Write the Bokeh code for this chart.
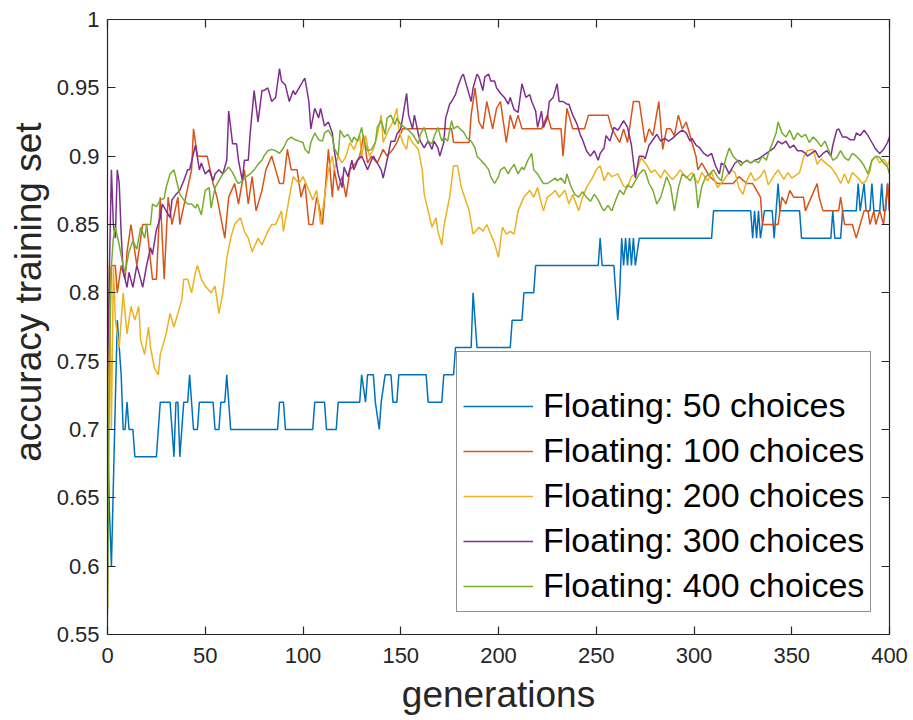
from bokeh.plotting import figure
from bokeh.models import LinearAxis, FixedTicker, Range1d, CustomJSTickFormatter, CustomLabelingPolicy, Title
from bokeh.embed import file_html
from bokeh.resources import INLINE

FONT = "Liberation Sans"
AXC = "#262626"

series_labels = ["Floating: 50 choices", "Floating: 100 choices", "Floating: 200 choices",
                 "Floating: 300 choices", "Floating: 400 choices"]
series_colors = ["#0072BD", "#D95319", "#EDB120", "#7E2F8E", "#77AC30"]

x_ticks = [0, 50, 100, 150, 200, 250, 300, 350, 400]
y_ticks = [0.55, 0.6, 0.65, 0.7, 0.75, 0.8, 0.85, 0.9, 0.95, 1.0]
x_title = "generations"
y_title = "accuracy training set"

# (generation, accuracy)
pts_50 = [(0,.70),(1,.64),(2,.60),(3,.66),(4,.72),(5,.78),(6,.76),(7,.74),(8,.70),(9,.70),(10,.72),(11,.70),
          (13,.70),(14,.68),(25,.68),(26,.70),(27,.72),(32,.72),(33,.70),(34,.68),(35,.72),(36,.72),(37,.68),
          (38,.70),(39,.72),(41,.72),(42,.74),(43,.72),(44,.70),(46,.70),(47,.72),(54,.72),(55,.70),(57,.70),
          (58,.72),(60,.72),(61,.74),(62,.72),(63,.70),(87,.70),(88,.72),(90,.72),(91,.70),(105,.70),(106,.72),
          (111,.72),(112,.70),(117,.70),(118,.72),(129,.72),(130,.74),(132,.72),(133,.74),(136,.74),(137,.72),
          (139,.70),(140,.72),(142,.74),(145,.74),(146,.72),(148,.72),(149,.74),(163,.74),(164,.72),(171,.72),
          (172,.74),(177,.74),(178,.76),(186,.76),(187,.80),(188,.78),(189,.76),(206,.76),(207,.78),(212,.78),
          (213,.80),(218,.80),(219,.82),(251,.82),(252,.84),(253,.82),(259,.82),(260,.80),(261,.78),(262,.80),
          (263,.84),(264,.82),(265,.84),(266,.82),(267,.84),(268,.82),(269,.84),(270,.82),(272,.84),(309,.84),
          (310,.86),(329,.86),(330,.84),(331,.86),(332,.84),(333,.86),(334,.84),(336,.86),(340,.86),(341,.84),
          (342,.86),(343,.88),(344,.86),(354,.86),(355,.84),(370,.84),(371,.86),(372,.84),(375,.84),(376,.86),
          (383,.86),(384,.88),(385,.86),(387,.88),(388,.86),(390,.86),(391,.88),(392,.86),(395,.86),(396,.88),
          (397,.86),(398,.86),(399,.88),(400,.86)]

pts_100 = [(0,.75),(1,.80),(2,.82),(4,.82),(5,.80),(7,.82),(9,.81),(10,.83),(12,.85),(15,.82),(18,.85),(20,.85),
           (23,.81),(25,.81),(27,.87),(29,.81),(31,.87),(33,.85),(36,.87),(37,.85),(40,.87),(43,.89),(44,.92),
           (46,.90),(48,.90),(51,.90),(54,.88),(56,.87),(60,.84),(62,.87),(65,.88),(67,.865),(70,.89),(72,.865),
           (74,.885),(76,.86),(79,.875),(81,.89),(84,.90),(86,.89),(88,.88),(90,.88),(92,.905),(94,.89),(97,.89),
           (99,.87),(101,.88),(103,.85),(105,.85),(107,.87),(108,.865),(110,.85),(113,.905),(115,.87),(116,.89),
           (118,.875),(120,.885),(122,.87),(124,.89),(127,.895),(129,.90),(131,.915),(133,.895),(135,.90),
           (138,.895),(141,.905),(143,.90),(146,.905),(148,.91),(151,.92),(176,.92),(177,.91),(185,.91),
           (186,.93),(188,.95),(190,.925),(192,.92),(194,.94),(197,.92),(199,.935),(201,.94),(204,.91),(206,.93),
           (208,.92),(210,.93),(212,.92),(222,.92),(225,.93),(227,.92),(232,.92),(233,.90),(235,.935),(238,.92),
           (244,.92),(246,.93),(256,.93),(258,.92),(262,.91),(264,.92),(266,.91),(269,.94),(272,.94),(275,.91),
           (277,.92),(279,.915),(282,.94),(284,.905),(286,.92),(288,.92),(290,.915),(292,.93),(294,.92),
           (296,.925),(299,.91),(301,.90),(302,.89),(304,.895),(306,.89),(308,.885),(312,.88),(316,.88),
           (320,.88),(323,.885),(327,.88),(330,.88),(332,.875),(334,.87),(335,.85),(343,.85),(345,.87),
           (347,.865),(349,.875),(351,.87),(356,.87),(357,.86),(360,.87),(363,.88),(364,.87),(366,.86),
           (374,.86),(375,.87),(377,.85),(381,.85),(383,.84),(385,.85),(387,.86),(389,.86),(390,.85),(392,.86),
           (393,.85),(395,.86),(397,.85),(399,.88),(400,.86)]

pts_200 = [(0,.57),(1,.82),(2,.70),(3,.82),(4,.78),(6,.76),(8,.80),(10,.77),(12,.79),(14,.78),(16,.79),(17,.765),
           (19,.755),(21,.775),(22,.76),(24,.745),(26,.74),(27,.755),(30,.77),(32,.785),(34,.775),(36,.785),
           (38,.795),(39,.81),(41,.81),(43,.80),(45,.815),(46,.82),(48,.81),(50,.805),(53,.80),(55,.805),
           (57,.785),(59,.80),(61,.825),(63,.84),(65,.85),(68,.855),(70,.845),(72,.84),(74,.83),(77,.84),
           (79,.835),(82,.845),(84,.85),(86,.85),(89,.86),(90,.845),(93,.87),(95,.885),(98,.88),(100,.885),
           (103,.875),(105,.868),(107,.875),(109,.85),(111,.87),(113,.89),(115,.90),(116,.89),(118,.90),
           (120,.895),(122,.90),(124,.91),(126,.905),(129,.915),(130,.90),(132,.915),(134,.90),(136,.905),
           (138,.915),(140,.93),(141,.91),(144,.92),(146,.925),(148,.935),(149,.92),(151,.91),(153,.905),
           (154,.915),(156,.91),(159,.905),(161,.89),(162,.872),(164,.86),(166,.848),(168,.855),(169,.845),
           (171,.835),(172,.848),(175,.87),(177,.893),(179,.893),(181,.877),(185,.86),(187,.843),(190,.848),
           (192,.845),(194,.85),(196,.843),(198,.836),(200,.826),(202,.848),(204,.843),(206,.845),(208,.843),
           (210,.86),(213,.87),(216,.875),(218,.87),(220,.877),(222,.865),(223,.86),(225,.87),(227,.872),
           (229,.875),(231,.87),(234,.875),(236,.865),(238,.872),(241,.86),(243,.87),(245,.877),(248,.884),
           (250,.89),(252,.893),(254,.882),(256,.888),(258,.885),(261,.887),(264,.878),(266,.877),(268,.885),
           (270,.887),(273,.899),(276,.893),(278,.888),(280,.89),(283,.884),(285,.89),(287,.886),(289,.883),
           (291,.886),(293,.89),(296,.884),(299,.888),(302,.88),(304,.888),(307,.882),(309,.888),(312,.877),
           (315,.882),(319,.89),(321,.888),(323,.877),(325,.872),(327,.882),(329,.888),(331,.882),(334,.885),
           (336,.89),(338,.879),(341,.886),(343,.89),(346,.883),(348,.888),(350,.884),(352,.886),(354,.888),
           (356,.899),(358,.904),(361,.905),(363,.894),(365,.898),(368,.894),(370,.892),(373,.886),(375,.88),
           (377,.887),(379,.88),(381,.888),(384,.884),(386,.88),(388,.882),(390,.889),(391,.897),(393,.90),
           (395,.895),(397,.898),(399,.893),(400,.897)]

pts_300 = [(0,.74),(1,.82),(2,.89),(3,.85),(4,.84),(5,.89),(6,.88),(7,.843),(8,.816),(10,.804),(11,.815),
           (13,.804),(15,.82),(16,.815),(18,.804),(20,.82),(22,.833),(23,.828),(25,.846),(27,.855),(28,.865),
           (30,.86),(32,.855),(33,.868),(35,.872),(37,.875),(39,.882),(41,.89),(42,.89),(44,.902),(45,.908),
           (47,.89),(48,.895),(50,.887),(52,.89),(54,.882),(55,.887),(57,.89),(59,.887),(61,.897),(62,.933),
           (64,.909),(66,.909),(67,.897),(69,.882),(70,.897),(72,.897),(73,.917),(75,.948),(77,.925),(79,.948),
           (80,.948),(82,.95),(84,.94),(86,.943),(88,.964),(89,.955),(91,.952),(93,.94),(95,.948),(96,.945),
           (98,.95),(100,.955),(101,.957),(103,.94),(104,.92),(106,.935),(108,.928),(109,.935),(111,.922),
           (113,.925),(115,.917),(116,.904),(118,.887),(120,.877),(121,.892),(123,.885),(125,.897),(126,.89),
           (128,.897),(130,.90),(131,.897),(133,.89),(135,.897),(136,.90),(138,.895),(140,.89),(141,.884),
           (143,.897),(145,.911),(147,.911),(148,.916),(150,.92),(153,.946),(154,.93),(156,.92),(157,.93),
           (159,.916),(160,.911),(162,.906),(164,.911),(166,.905),(167,.911),(169,.906),(170,.90),(172,.91),
           (173,.928),(175,.938),(176,.94),(178,.945),(179,.95),(181,.958),(182,.96),(184,.95),(186,.94),
           (187,.95),(189,.96),(190,.958),(192,.948),(193,.958),(195,.96),(196,.955),(198,.955),(199,.95),
           (201,.946),(203,.943),(205,.938),(206,.943),(208,.934),(210,.932),(212,.953),(214,.943),(216,.945),
           (217,.94),(219,.933),(220,.921),(222,.933),(223,.921),(225,.928),(226,.94),(228,.943),(230,.953),
           (231,.94),(233,.94),(235,.938),(236,.938),(238,.93),(240,.924),(242,.915),(243,.912),(245,.904),
           (247,.90),(249,.904),(251,.897),(252,.902),(254,.906),(255,.915),(257,.911),(259,.921),(261,.919),
           (262,.921),(264,.926),(266,.921),(268,.908),(270,.884),(272,.90),(274,.90),(275,.898),(277,.908),
           (279,.912),(281,.916),(283,.911),(285,.913),(287,.911),(289,.913),(292,.917),(294,.919),(296,.917),
           (298,.911),(299,.913),(301,.908),(303,.906),(305,.902),(307,.90),(309,.902),(311,.893),(313,.887),
           (314,.895),(316,.893),(318,.887),(319,.89),(321,.895),(323,.897),(325,.895),(327,.897),(329,.895),
           (331,.897),(333,.898),(335,.90),(337,.902),(339,.904),(341,.906),(343,.911),(345,.909),(347,.911),
           (349,.906),(351,.908),(353,.904),(355,.904),(357,.902),(358,.90),(360,.902),(362,.904),(364,.899),
           (366,.902),(368,.904),(370,.90),(371,.908),(373,.919),(374,.92),(376,.914),(378,.914),(380,.912),
           (382,.912),(383,.917),(385,.915),(387,.919),(389,.915),(391,.91),(393,.905),(395,.902),(397,.905),
           (399,.91),(400,.914)]

pts_400 = [(0,.565),(1,.75),(2,.82),(3,.84),(4,.848),(6,.835),(8,.82),(9,.815),(11,.83),(13,.838),(15,.832),
           (17,.848),(19,.84),(20,.85),(22,.85),(23,.865),(25,.863),(27,.868),(29,.869),(30,.877),(32,.887),
           (34,.89),(35,.884),(37,.872),(39,.868),(41,.865),(43,.865),(45,.862),(46,.865),(48,.857),(50,.875),
           (52,.877),(53,.862),(55,.877),(57,.882),(59,.887),(62,.892),(64,.888),(66,.882),(67,.88),(69,.882),
           (71,.885),(73,.887),(75,.89),(77,.894),(79,.897),(80,.90),(82,.904),(84,.905),(86,.904),(88,.902),
           (90,.906),(92,.912),(94,.914),(96,.912),(98,.911),(100,.91),(101,.905),(103,.902),(104,.91),
           (106,.917),(108,.912),(110,.911),(111,.917),(113,.919),(115,.914),(116,.906),(118,.90),(119,.919),
           (121,.914),(123,.916),(125,.91),(126,.914),(128,.911),(130,.921),(131,.912),(133,.904),(135,.905),
           (137,.91),(138,.921),(140,.926),(142,.916),(143,.928),(145,.93),(147,.923),(148,.928),(150,.923),
           (152,.921),(154,.919),(156,.916),(157,.914),(159,.909),(160,.916),(162,.921),(164,.911),(166,.909),
           (167,.914),(169,.921),(171,.911),(172,.914),(174,.911),(176,.926),(177,.92),(179,.922),(181,.919),
           (182,.918),(184,.913),(186,.911),(188,.906),(189,.90),(191,.897),(193,.894),(195,.89),(196,.885),
           (198,.88),(200,.885),(201,.89),(203,.892),(205,.887),(206,.89),(208,.894),(210,.887),(212,.892),
           (213,.89),(215,.897),(217,.902),(218,.89),(220,.887),(222,.882),(223,.88),(225,.88),(227,.882),
           (229,.884),(230,.882),(232,.884),(234,.88),(235,.887),(237,.878),(239,.872),(241,.87),(243,.874),
           (245,.87),(247,.867),(249,.872),(251,.868),(253,.862),(254,.86),(256,.864),(258,.86),(260,.868),
           (262,.875),(264,.872),(266,.879),(268,.877),(270,.882),(272,.887),(274,.89),(275,.889),(277,.88),
           (279,.875),(281,.865),(283,.87),(285,.88),(286,.885),(288,.878),(290,.86),(292,.877),(294,.887),
           (296,.885),(298,.882),(300,.887),(301,.878),(302,.862),(304,.878),(306,.885),(308,.887),(310,.89),
           (312,.885),(314,.882),(315,.89),(316,.897),(318,.906),(320,.90),(322,.897),(324,.893),(325,.895),
           (327,.897),(329,.895),(331,.897),(333,.895),(335,.90),(337,.897),(338,.902),(340,.909),(342,.917),
           (343,.925),(345,.917),(347,.914),(349,.919),(351,.912),(353,.917),(355,.914),(357,.916),(359,.91),
           (361,.914),(363,.911),(365,.907),(367,.911),(369,.904),(371,.897),(373,.899),(375,.904),(377,.899),
           (379,.897),(381,.902),(383,.90),(385,.897),(387,.893),(389,.887),(391,.897),(393,.90),(395,.899),
           (397,.895),(399,.892),(400,.887)]

all_series = [pts_50, pts_100, pts_200, pts_300, pts_400]

p = figure(width=913, height=720, output_backend="svg", toolbar_location=None,
           x_range=Range1d(0, 400), y_range=Range1d(0.55, 1.0),
           min_border_left=106, min_border_right=24, min_border_top=19, min_border_bottom=86,
           background_fill_color="white", border_fill_color="white")
p.outline_line_color = None
p.grid.visible = False

for pts, lab, col in zip(all_series, series_labels, series_colors):
    xs = [a for a, b in pts]
    ys = [b for a, b in pts]
    p.line(xs, ys, line_color=col, line_width=1.5, legend_label=lab)

fmt = CustomJSTickFormatter(code="return tick.toString();")
no_labels = CustomLabelingPolicy(code="""
const n = indices.size;
for (let i = 0; i < n; i++) { indices.unset(i) }
return indices
""")

def style_axis(ax, show_labels):
    ax.axis_line_color = AXC
    ax.axis_line_width = 1.2
    ax.major_tick_line_color = AXC
    ax.major_tick_line_width = 1.2
    ax.major_tick_in = 8
    ax.major_tick_out = 0
    ax.minor_tick_line_color = None
    ax.formatter = fmt
    ax.major_label_text_font = FONT
    ax.major_label_text_color = AXC
    if show_labels:
        ax.major_label_text_font_size = "22px"
        ax.axis_label_text_font = FONT
        ax.axis_label_text_font_size = "37px"
        ax.axis_label_text_font_style = "normal"
        ax.axis_label_text_color = AXC
    else:
        ax.major_label_text_font_size = "10px"
        ax.major_label_policy = no_labels
        ax.major_label_standoff = 0

p.xaxis[0].ticker = FixedTicker(ticks=x_ticks)
p.yaxis[0].ticker = FixedTicker(ticks=y_ticks)
p.xaxis[0].axis_label = x_title
style_axis(p.xaxis[0], True)
style_axis(p.yaxis[0], True)
p.xaxis[0].major_label_standoff = 13
p.xaxis[0].axis_label_standoff = 8
p.yaxis[0].major_label_standoff = 8

# y-axis title as a side title whose upper end sits where the original's does
ytitle = Title(text=y_title, align="right", offset=103,
               text_font=FONT, text_font_size="37px", text_font_style="normal", text_color=AXC)
p.add_layout(ytitle, "left")

top_ax = LinearAxis(ticker=FixedTicker(ticks=x_ticks))
right_ax = LinearAxis(ticker=FixedTicker(ticks=y_ticks))
style_axis(top_ax, False)
style_axis(right_ax, False)
p.add_layout(top_ax, "above")
p.add_layout(right_ax, "right")

lg = p.legend[0]
lg.location = (349, 22)
lg.border_line_color = AXC
lg.border_line_width = 1.2
lg.background_fill_color = "white"
lg.background_fill_alpha = 1.0
lg.label_text_font = FONT
lg.label_text_font_size = "34px"
lg.label_text_color = "#000000"
lg.glyph_width = 70
lg.glyph_height = 38
lg.label_height = 38
lg.spacing = 6
lg.padding = 6
lg.label_standoff = 10
lg.margin = 0
lg.title = " "
lg.title_text_font_size = "14px"
lg.title_standoff = 12

open("out.html", "w").write(file_html(p, INLINE))
